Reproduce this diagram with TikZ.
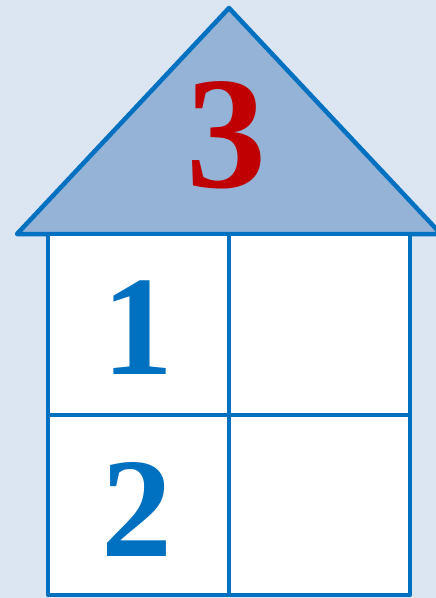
\documentclass[tikz,border=0pt]{standalone}
\usepackage{fontspec}
\setmainfont{Liberation Serif}
\usetikzlibrary{positioning}

\definecolor{bgblue}{HTML}{DCE6F2}
\definecolor{roofblue}{HTML}{95B3D7}
\definecolor{lineblue}{HTML}{0070C0}
\definecolor{numred}{HTML}{C00000}

\begin{document}
\begin{tikzpicture}[
  x=1pt,y=-1pt,
  wall/.style={draw=lineblue,line width=4.5pt,line join=round},
  digit/.style={font=\bfseries,inner sep=0pt,anchor=center},
]

% Background
\clip (0,0) rectangle (436,598);
\fill[bgblue] (0,0) rectangle (436,598);

% Corners of the house
\coordinate (apex) at (229,8);
\coordinate (eaveL) at (17,234);
\coordinate (eaveR) at (441,234);
\coordinate (boxTL) at (48,234);
\coordinate (boxBR) at (410,595);

% Roof
\draw[wall,fill=roofblue] (eaveL) -- (apex) -- (eaveR) -- cycle;

% Body with four cells
\draw[wall,fill=white] (boxTL) rectangle (boxBR);
\draw[wall] (229,234) -- (229,595);
\draw[wall] (48,415) -- (410,415);

% Numbers
\node[digit,text=numred,font=\fontsize{160}{160}\selectfont\bfseries] (three) at (226,135) {3};
\node[digit,text=lineblue,font=\fontsize{142}{142}\selectfont\bfseries] (one) at (138,328) {1};
\node[digit,text=lineblue,font=\fontsize{142}{142}\selectfont\bfseries] (two) at (137,509) {2};

\end{tikzpicture}
\end{document}
